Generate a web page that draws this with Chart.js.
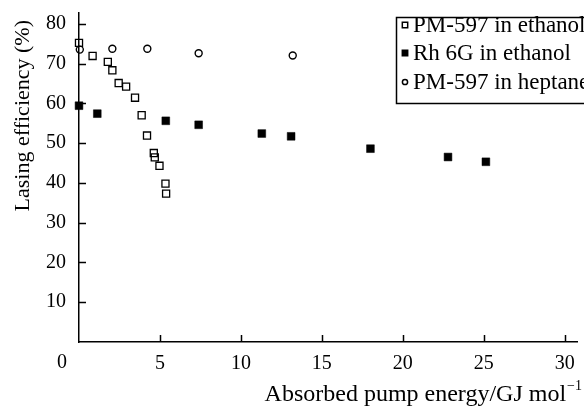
<!DOCTYPE html>
<html>
<head>
<meta charset="utf-8">
<script src="https://cdn.jsdelivr.net/npm/chart.js@4.4.0/dist/chart.umd.min.js"></script>
<style>
  html, body { margin: 0; padding: 0; background: #fff; }
  #wrap { width: 584px; height: 407px; }
</style>
</head>
<body>
<div id="wrap"><canvas id="chart"></canvas></div>
<script>
// PM-597 in ethanol (open squares)
const pmEthanolX = [0.0, 0.84, 1.78, 2.06, 2.45, 2.91, 3.46, 3.87, 4.2, 4.62, 4.68, 4.97, 5.34, 5.38];
const pmEthanolY = [75.2, 71.9, 70.4, 68.3, 65.1, 64.2, 61.4, 57.0, 51.9, 47.5, 46.4, 44.3, 39.8, 37.3];

// Rh 6G in ethanol (filled squares)
const rhEthanolX = [0.0, 1.13, 5.36, 7.39, 11.29, 13.1, 18.0, 22.79, 25.13];
const rhEthanolY = [59.4, 57.4, 55.6, 54.6, 52.4, 51.7, 48.6, 46.5, 45.3];

// PM-597 in heptane (open circles)
const pmHeptaneX = [0.05, 2.06, 4.22, 7.39, 13.2];
const pmHeptaneY = [73.5, 73.7, 73.7, 72.6, 72.0];

const seriesLabels = ["PM-597 in ethanol", "Rh 6G in ethanol", "PM-597 in heptane"];
const xTicks = [0, 5, 10, 15, 20, 25, 30];
const yTicks = [10, 20, 30, 40, 50, 60, 70, 80];

const FONT = "'Liberation Serif', 'DejaVu Serif', serif";

function toPoints(xs, ys) {
  return xs.map((x, i) => ({ x: x, y: ys[i] }));
}

const frame = {
  id: "frame",
  afterDraw(chart) {
    const ctx = chart.ctx;
    const xScale = chart.scales.x;
    const yScale = chart.scales.y;
    const area = chart.chartArea;

    ctx.save();
    ctx.strokeStyle = "#000";
    ctx.lineWidth = 1.5;

    // tick marks point into the plot
    ctx.beginPath();
    xTicks.forEach((v) => {
      if (v === 0) return;
      const px = Math.round(xScale.getPixelForValue(v)) + 0.5;
      ctx.moveTo(px, area.bottom);
      ctx.lineTo(px, area.bottom - 7);
    });
    yTicks.forEach((v) => {
      const py = Math.round(yScale.getPixelForValue(v)) + 0.5;
      ctx.moveTo(area.left, py);
      ctx.lineTo(area.left + 7, py);
    });
    ctx.stroke();

    ctx.fillStyle = "#000";

    // shared zero at the corner
    ctx.font = "20px " + FONT;
    ctx.textAlign = "center";
    ctx.textBaseline = "middle";
    ctx.fillText("0", 62, 363);

    // y title
    ctx.save();
    ctx.translate(23, 20);
    ctx.rotate(-Math.PI / 2);
    ctx.font = "22px " + FONT;
    ctx.textAlign = "right";
    ctx.textBaseline = "middle";
    ctx.fillText("Lasing efficiency (%)", 0, 0);
    ctx.restore();

    // x title with superscript
    ctx.font = "14px " + FONT;
    const sup = "\u22121";
    const supW = ctx.measureText(sup).width;
    ctx.textAlign = "left";
    ctx.textBaseline = "alphabetic";
    const right = 582;
    ctx.fillText(sup, right - supW, 390);
    ctx.font = "24px " + FONT;
    ctx.textAlign = "right";
    ctx.fillText("Absorbed pump energy/GJ mol", right - supW - 1, 401);

    // legend box
    const boxLeft = 396;
    const boxTop = 17;
    const boxBottom = 103;
    ctx.lineWidth = 1.5;
    ctx.strokeRect(boxLeft + 0.5, boxTop + 0.5, 600, boxBottom - boxTop);

    const rowY = [25, 53, 82];
    chart.data.datasets.forEach((ds, i) => {
      const cy = rowY[i];
      ctx.save();
      ctx.strokeStyle = ds.borderColor;
      ctx.fillStyle = ds.backgroundColor;
      Chart.helpers.drawPoint(ctx, {
        pointStyle: ds.pointStyle,
        radius: ds.pointStyle === "circle" ? 2.6 : 3.8,
        borderWidth: 1.3,
        rotation: 0
      }, 405, cy);
      ctx.restore();

      ctx.fillStyle = "#000";
      ctx.font = "23px " + FONT;
      ctx.textAlign = "left";
      ctx.textBaseline = "middle";
      ctx.fillText(ds.label, 413, cy + 1);
    });

    ctx.restore();
  }
};

new Chart(document.getElementById("chart"), {
  type: "scatter",

  data: {
    datasets: [
      {
        label: seriesLabels[0],
        data: toPoints(pmEthanolX, pmEthanolY),
        pointStyle: "rect",
        pointRadius: 5,
        borderWidth: 1.3,
        borderColor: "#000",
        backgroundColor: "rgba(0,0,0,0)",
        clip: false
      },
      {
        label: seriesLabels[1],
        data: toPoints(rhEthanolX, rhEthanolY),
        pointStyle: "rect",
        pointRadius: 5.5,
        borderWidth: 0.5,
        borderColor: "#000",
        backgroundColor: "#000",
        clip: false
      },
      {
        label: seriesLabels[2],
        data: toPoints(pmHeptaneX, pmHeptaneY),
        pointStyle: "circle",
        pointRadius: 3.5,
        borderWidth: 1.4,
        borderColor: "#000",
        backgroundColor: "rgba(0,0,0,0)",
        clip: false
      }
    ]
  },

  options: {
    responsive: true,
    maintainAspectRatio: false,
    animation: false,
    events: [],

    layout: {
      padding: { top: 13, right: 0, bottom: 0, left: 0 }
    },

    plugins: {
      legend: { display: false },
      tooltip: { enabled: false }
    },

    scales: {
      x: {
        type: "linear",
        min: 0,
        max: 30.8,
        afterFit: (scale) => {
          scale.height = 65;
          scale.paddingLeft = 0;
          scale.paddingRight = 0;
        },
        afterBuildTicks: (scale) => {
          scale.ticks = xTicks.map((v) => ({ value: v }));
        },
        grid: { drawOnChartArea: false, drawTicks: false },
        border: { display: true, color: "#000", width: 1.5 },
        ticks: {
          color: "#000",
          padding: 10,
          maxRotation: 0,
          font: { family: FONT, size: 20 },
          callback: (v) => (v === 0 ? "" : v)
        }
      },
      y: {
        type: "linear",
        min: 0,
        max: 82.7,
        afterFit: (scale) => {
          scale.width = 79;
          scale.paddingTop = 0;
          scale.paddingBottom = 0;
        },
        afterBuildTicks: (scale) => {
          scale.ticks = yTicks.map((v) => ({ value: v }));
        },
        grid: { drawOnChartArea: false, drawTicks: false },
        border: { display: true, color: "#000", width: 1.5 },
        ticks: {
          color: "#000",
          padding: 13,
          font: { family: FONT, size: 20 }
        }
      }
    }
  },

  plugins: [frame]
});
</script>
</body>
</html>
